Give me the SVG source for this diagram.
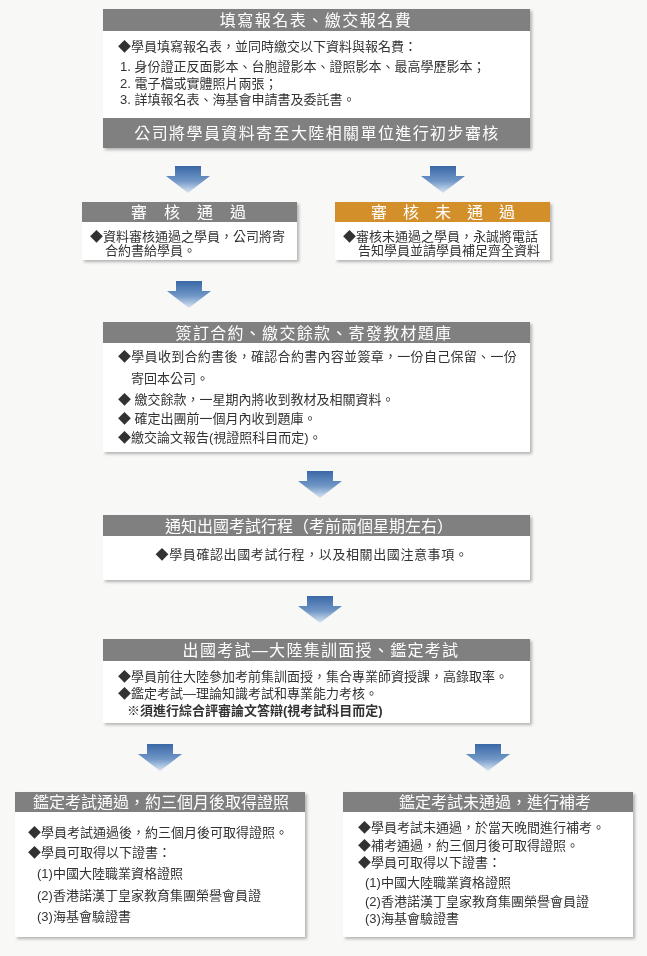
<svg xmlns="http://www.w3.org/2000/svg" width="647" height="956" viewBox="0 0 647 956">
<defs>
<linearGradient id="ag" x1="0" y1="0" x2="0" y2="1">
<stop offset="0" stop-color="#3A68A6"/>
<stop offset="0.55" stop-color="#6F96C6"/>
<stop offset="1" stop-color="#DCE6F2"/>
</linearGradient>
<path id="arrow" d="M-13,0 H13 V10 H22 L0,27 L-22,10 H-13 Z" fill="url(#ag)"/>
<filter id="sh" x="-5%" y="-5%" width="110%" height="115%">
<feDropShadow dx="2" dy="2" stdDeviation="1.8" flood-color="#000" flood-opacity="0.28"/>
</filter>
</defs>
<style>
.hd{fill:#808080}
.or{fill:#D38F2A}
.bd{fill:#FFFFFF}
.ht{font-family:"Liberation Sans","Noto Sans CJK TC",sans-serif;fill:#FFFFFF;font-size:16px;text-anchor:middle}
.t{font-family:"Liberation Sans","Noto Sans CJK TC",sans-serif;fill:#333333;font-size:13px}
.b{font-weight:bold}
</style>
<rect x="0" y="0" width="647" height="956" fill="#F8F8F6"/>

<g id="box1" filter="url(#sh)">
<rect class="bd" x="103" y="31" width="427" height="87"/>
<rect class="hd" x="103" y="9" width="427" height="22"/>
<rect class="hd" x="103" y="118" width="427" height="30"/>
<text class="ht" x="316" y="26" letter-spacing="1.5">填寫報名表、繳交報名費</text>
<text class="t" x="118" y="51">◆學員填寫報名表，並同時繳交以下資料與報名費：</text>
<text class="t" x="120" y="71">1. 身份證正反面影本、台胞證影本、證照影本、最高學歷影本；</text>
<text class="t" x="120" y="88">2. 電子檔或實體照片兩張；</text>
<text class="t" x="120" y="104">3. 詳填報名表、海基會申請書及委託書。</text>
<text class="ht" x="317" y="139" font-size="16.5" letter-spacing="1.4">公司將學員資料寄至大陸相關單位進行初步審核</text>
</g>

<g id="box2" filter="url(#sh)">
<rect class="bd" x="82" y="222" width="215" height="38"/>
<rect class="hd" x="82" y="202" width="215" height="20"/>
<text class="ht" x="197" y="218" font-size="15" letter-spacing="17">審核通過</text>
<text class="t" x="90" y="241">◆資料審核通過之學員，公司將寄</text>
<text class="t" x="105" y="255">合約書給學員。</text>
</g>

<g id="box3" filter="url(#sh)">
<rect class="bd" x="335" y="222" width="215" height="38"/>
<rect class="or" x="335" y="202" width="215" height="20"/>
<text class="ht" x="451" y="218" font-size="15" letter-spacing="16">審核未通過</text>
<text class="t" x="343" y="241">◆審核未通過之學員，永誠將電話</text>
<text class="t" x="358" y="255">告知學員並請學員補足齊全資料</text>
</g>

<g id="box4" filter="url(#sh)">
<rect class="bd" x="103" y="343" width="427" height="109"/>
<rect class="hd" x="103" y="322" width="427" height="21"/>
<text class="ht" x="314" y="339" letter-spacing="1.3">簽訂合約、繳交餘款、寄發教材題庫</text>
<text class="t" x="118" y="361" letter-spacing="0.3">◆學員收到合約書後，確認合約書內容並簽章，一份自己保留、一份</text>
<text class="t" x="131" y="383">寄回本公司。</text>
<text class="t" x="118" y="404">◆ 繳交餘款，一星期內將收到教材及相關資料。</text>
<text class="t" x="118" y="423">◆ 確定出團前一個月內收到題庫。</text>
<text class="t" x="118" y="442">◆繳交論文報告(視證照科目而定)。</text>
</g>

<g id="box5" filter="url(#sh)">
<rect class="bd" x="103" y="536" width="427" height="44"/>
<rect class="hd" x="103" y="515" width="427" height="21"/>
<text class="ht" x="309" y="532" font-size="15.5">通知出國考試行程（考前兩個星期左右）</text>
<text class="t" x="312" y="559" text-anchor="middle" letter-spacing="0.6">◆學員確認出國考試行程，以及相關出國注意事項。</text>
</g>

<g id="box6" filter="url(#sh)">
<rect class="bd" x="103" y="661" width="427" height="62"/>
<rect class="hd" x="103" y="639" width="427" height="22"/>
<text class="ht" x="321" y="656" letter-spacing="1.3">出國考試—大陸集訓面授、鑑定考試</text>
<text class="t" x="118" y="681">◆學員前往大陸參加考前集訓面授，集合專業師資授課，高錄取率。</text>
<text class="t" x="118" y="698">◆鑑定考試—理論知識考試和專業能力考核。</text>
<text class="t b" x="127" y="715" font-size="12.5">※須進行綜合評審論文答辯(視考試科目而定)</text>
</g>

<g id="box7" filter="url(#sh)">
<rect class="bd" x="15" y="812" width="290" height="125"/>
<rect class="hd" x="15" y="792" width="290" height="20"/>
<text class="ht" x="161" y="808" font-size="15.5">鑑定考試通過，約三個月後取得證照</text>
<text class="t" x="28" y="837">◆學員考試通過後，約三個月後可取得證照。</text>
<text class="t" x="28" y="857">◆學員可取得以下證書：</text>
<text class="t" x="37" y="878">(1)中國大陸職業資格證照</text>
<text class="t" x="37" y="900">(2)香港諾漢丁皇家教育集團榮譽會員證</text>
<text class="t" x="37" y="921">(3)海基會驗證書</text>
</g>

<g id="box8" filter="url(#sh)">
<rect class="bd" x="343" y="812" width="290" height="125"/>
<rect class="hd" x="343" y="792" width="290" height="20"/>
<text class="ht" x="495" y="808">鑑定考試未通過，進行補考</text>
<text class="t" x="358" y="832">◆學員考試未通過，於當天晚間進行補考。</text>
<text class="t" x="358" y="850">◆補考通過，約三個月後可取得證照。</text>
<text class="t" x="358" y="867">◆學員可取得以下證書：</text>
<text class="t" x="365" y="887">(1)中國大陸職業資格證照</text>
<text class="t" x="365" y="906">(2)香港諾漢丁皇家教育集團榮譽會員證</text>
<text class="t" x="365" y="923">(3)海基會驗證書</text>
</g>

<g id="connectors">
<use href="#arrow" x="188" y="166"/>
<use href="#arrow" x="443" y="166"/>
<use href="#arrow" x="189" y="281"/>
<use href="#arrow" x="320" y="471"/>
<use href="#arrow" x="320" y="596"/>
<use href="#arrow" x="160" y="744"/>
<use href="#arrow" x="488" y="744"/>
</g>
</svg>
